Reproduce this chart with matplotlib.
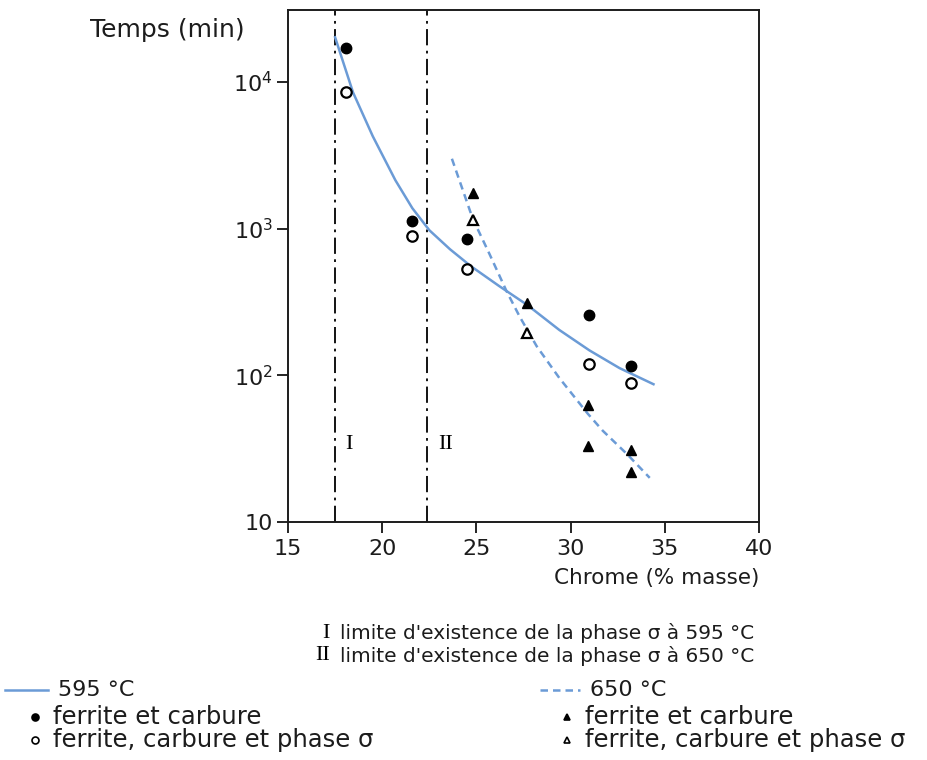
import matplotlib
matplotlib.use("Agg")
import matplotlib.pyplot as plt
from matplotlib.lines import Line2D

# ── data: time to sigma-phase vs chromium content ─────────────────────────────
# 595 °C
cr_595_fc = [18.1, 21.6, 24.5, 31.0, 33.2]          # ferrite et carbure
t_595_fc = [17000, 1130, 850, 257, 116]
cr_595_sig = [18.1, 21.6, 24.5, 31.0, 33.2]         # + phase sigma
t_595_sig = [8550, 895, 530, 120, 88]

# 650 °C
cr_650_fc = [24.8, 27.7, 30.9, 30.9, 33.2, 33.2]
t_650_fc = [1740, 310, 63, 33, 31, 22]
cr_650_sig = [24.8, 27.7]
t_650_sig = [1140, 193]

# trend curves
curve_595_x = [17.5, 18.45, 19.5, 20.7, 21.6, 22.5, 23.6, 24.7, 26.2, 27.7, 29.4, 31.0, 32.6, 34.4]
curve_595_y = [20200, 8510, 4270, 2140, 1380, 977, 724, 556, 407, 302, 204, 148, 112, 87]
curve_650_x = [23.7, 24.8, 25.7, 26.6, 27.3, 28.2, 29.4, 30.9, 31.7, 33.0, 34.2]
curve_650_y = [3000, 1175, 670, 375, 251, 158, 96, 55, 42, 29, 20]

# phase-existence limits
limit_x = [17.5, 22.4]
limit_labels = ["I", "II"]

xticks = [15, 20, 25, 30, 35, 40]
yticks = [10, 100, 1000, 10000]
ytick_labels = ["10", "10$^2$", "10$^3$", "10$^4$"]

BLUE = "#6b9bd6"
INK = "#1c1c1c"
SANS = ["DejaVu Sans"]
SERIF = ["Liberation Serif", "DejaVu Serif"]
plt.rcParams["mathtext.fontset"] = "dejavusans"

fig = plt.figure(figsize=(9.28, 7.60), dpi=100)
fig.patch.set_facecolor("white")
ax = fig.add_axes([288 / 928, 1 - 522 / 760, (759 - 288) / 928, (522 - 10) / 760])

ax.set_yscale("log")
ax.set_xlim(15, 40)
ax.set_ylim(10, 31000)

# limits I and II
for xv, lab in zip(limit_x, limit_labels):
    ax.axvline(xv, color="black", lw=1.3, ls=(0, (9, 3, 1.5, 3)), zorder=1)
    ax.text(xv + 0.55, 34, lab, family=SERIF, fontsize=16, ha="left", va="center")

ax.plot(curve_595_x, curve_595_y, color=BLUE, lw=1.8, zorder=2)
ax.plot(curve_650_x, curve_650_y, color=BLUE, lw=1.8, ls=(0, (3, 2)), zorder=2)

ms = 7.5
ax.plot(cr_595_fc, t_595_fc, "o", ms=ms, mfc="black", mec="black", zorder=3)
ax.plot(cr_595_sig, t_595_sig, "o", ms=ms, mfc="white", mec="black", mew=1.6, zorder=3)
ax.plot(cr_650_fc, t_650_fc, "^", ms=ms, mfc="black", mec="black", zorder=3)
ax.plot(cr_650_sig, t_650_sig, "^", ms=ms, mfc="white", mec="black", mew=1.6, zorder=3)

ax.set_xticks(xticks)
ax.set_xticklabels([str(v) for v in xticks], family=SANS, fontsize=16, color=INK)
ax.set_yticks(yticks)
ax.set_yticklabels(ytick_labels, family=SANS, fontsize=16, color=INK)
ax.yaxis.set_minor_locator(matplotlib.ticker.NullLocator())
ax.tick_params(axis="both", direction="out", length=8, width=1.2)
ax.tick_params(axis="x", pad=4)
ax.tick_params(axis="y", pad=3)
for sp in ax.spines.values():
    sp.set_linewidth(1.4)
    sp.set_color(INK)

fig.text(90 / 928, 1 - 30 / 760, "Temps (min)", family=SANS, fontsize=18,
         color=INK, ha="left", va="center")
fig.text(759 / 928, 1 - 578 / 760, "Chrome (% masse)", family=SANS, fontsize=15.5,
         color=INK, ha="right", va="center")


# ── notes and key below the plot ──────────────────────────────────────────────
def fx(px):
    return px / 928


def fy(py):
    return 1 - py / 760


for py, num, txt in [(633, "I", "limite d'existence de la phase σ à 595 °C"),
                     (656, "II", "limite d'existence de la phase σ à 650 °C")]:
    fig.text(fx(330), fy(py), num, family=SERIF, fontsize=16, ha="right", va="center")
    fig.text(fx(340), fy(py), txt, family=SANS, fontsize=14.5, ha="left",
             va="center", color=INK)

fig.add_artist(Line2D([fx(5), fx(48)], [fy(690), fy(690)], color=BLUE, lw=1.8))
fig.add_artist(Line2D([fx(540), fx(580)], [fy(690), fy(690)], color=BLUE, lw=1.8,
                      ls=(0, (3, 2))))
fig.text(fx(58), fy(690), "595 °C", family=SANS, fontsize=16, va="center", color=INK)
fig.text(fx(590), fy(690), "650 °C", family=SANS, fontsize=16, va="center", color=INK)

for px, marker, face, py, txt in [
    (35, "o", "black", 717, "ferrite et carbure"),
    (35, "o", "white", 740, "ferrite, carbure et phase σ"),
    (567, "^", "black", 717, "ferrite et carbure"),
    (567, "^", "white", 740, "ferrite, carbure et phase σ"),
]:
    fig.add_artist(Line2D([fx(px)], [fy(py)], marker=marker, ms=5, mfc=face,
                          mec="black", mew=1.2, ls="none"))
    fig.text(fx(px + 18), fy(py), txt, family=SANS, fontsize=17.5, va="center",
             color=INK)

fig.savefig("out.png", dpi=100, facecolor="white")
